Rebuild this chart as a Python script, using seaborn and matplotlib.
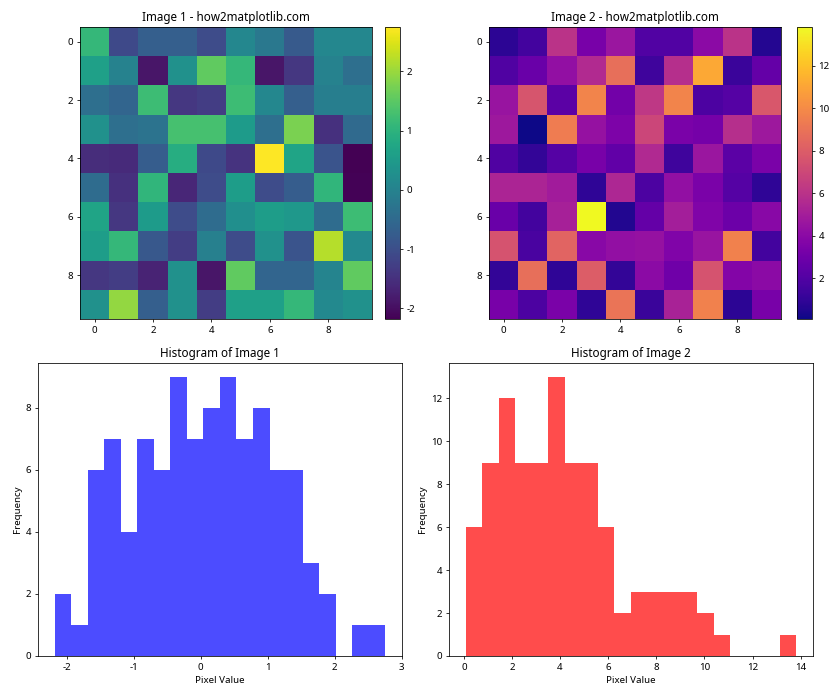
import numpy as np
import pandas as pd
import matplotlib
matplotlib.use("Agg")
import matplotlib.pyplot as plt
import seaborn as sns

plt.rcParams["font.family"] = ["Noto Sans", "DejaVu Sans"]
plt.rcParams["axes.unicode_minus"] = False

# -----------------------------
# Image data
# -----------------------------
image1 = [
    [1.1, -1.1, -0.7, -0.7, -1.05, 0.1, -0.2, -0.8, 0.1, 0.1],
    [0.6, 0.0, -1.9, 0.3, 1.55, 1.1, -1.9, -1.4, 0.0, -0.4],
    [-0.4, -0.6, 1.2, -1.4, -1.3, 1.2, 0.1, -0.7, -0.1, -0.1],
    [0.3, -0.4, -0.3, 1.3, 1.3, 0.5, -0.4, 1.75, -1.5, -0.5],
    [-1.55, -1.6, -0.75, 0.9, -1.1, -1.45, 2.75, 0.7, -0.9, -2.18],
    [-0.45, -1.5, 1.05, -1.65, -1.05, 0.55, -1.05, -0.75, 1.05, -2.15],
    [0.7, -1.4, 0.5, -1.05, -0.45, 0.25, 0.55, 0.45, -0.45, 1.2],
    [0.55, 1.1, -0.85, -1.3, -0.05, -1.05, 0.3, -0.9, 2.2, 0.15],
    [-1.4, -1.3, -1.7, 0.3, -1.9, 1.55, -0.6, -0.6, 0.05, 1.55],
    [0.3, 1.95, -0.7, 0.3, -1.3, 0.6, 0.6, 1.1, 0.15, 0.3],
]

image2 = [
    [0.8, 1.5, 6.0, 3.3, 4.6, 2.0, 2.0, 4.0, 6.0, 0.6],
    [1.9, 2.8, 4.3, 5.6, 8.8, 1.4, 5.8, 11.1, 1.2, 2.6],
    [4.5, 7.6, 2.3, 9.7, 3.1, 6.2, 9.7, 1.8, 2.1, 7.7],
    [4.7, 0.07, 9.4, 4.4, 3.5, 6.9, 3.4, 3.2, 5.8, 4.7],
    [1.9, 1.0, 2.1, 3.3, 2.5, 5.5, 1.4, 4.6, 2.3, 3.4],
    [5.3, 5.3, 4.9, 0.9, 5.4, 1.8, 4.3, 3.4, 2.1, 0.9],
    [2.8, 1.5, 5.1, 13.82, 0.5, 2.6, 5.0, 3.6, 2.9, 3.9],
    [7.5, 1.7, 8.3, 3.9, 4.3, 4.4, 3.6, 4.5, 9.6, 1.5],
    [1.0, 8.8, 0.9, 8.0, 1.0, 4.0, 3.0, 7.5, 3.7, 4.0],
    [3.3, 1.8, 3.4, 0.9, 9.0, 1.2, 5.2, 9.6, 0.8, 3.3],
]

# -----------------------------
# Histogram data (20 bins each)
# -----------------------------
hist1_range = (-2.184, 2.756)
hist1_counts = [2, 1, 6, 7, 4, 7, 6, 9, 7, 8, 9, 7, 8, 6, 6, 3, 2, 0, 1, 1]

hist2_range = (0.07, 13.82)
hist2_counts = [6, 9, 12, 9, 9, 13, 9, 9, 6, 2, 3, 3, 3, 3, 2, 1, 0, 0, 0, 1]

tick_labels = [0, 2, 4, 6, 8]


def draw_image(ax, data, cmap, title):
    sns.heatmap(np.array(data), cmap=cmap, ax=ax, square=True,
                xticklabels=False, yticklabels=False, cbar=True)
    ax.set_xticks([t + 0.5 for t in tick_labels])
    ax.set_xticklabels(tick_labels)
    ax.set_yticks([t + 0.5 for t in tick_labels])
    ax.set_yticklabels(tick_labels, rotation=0)
    ax.tick_params(length=3.5)
    for s in ax.spines.values():
        s.set_visible(True)
        s.set_linewidth(0.8)
    cb = ax.collections[0].colorbar
    cb.outline.set_linewidth(0.8)
    cb.ax.tick_params(length=3.5, labelsize=10)
    ax.set_title(title, fontsize=12)
    return cb


def draw_hist(ax, counts, rng, color, title):
    edges = np.linspace(rng[0], rng[1], len(counts) + 1)
    centers = (edges[:-1] + edges[1:]) / 2
    df = pd.DataFrame({"value": centers, "count": counts})
    sns.histplot(data=df, x="value", weights="count", bins=len(counts),
                 binrange=rng, ax=ax, color=color, alpha=0.7,
                 linewidth=0, edgecolor="none")
    ax.set_title(title, fontsize=12)
    ax.set_xlabel("Pixel Value")
    ax.set_ylabel("Frequency")


fig, axes = plt.subplots(2, 2, figsize=(12, 10), dpi=70)

cb1 = draw_image(axes[0, 0], image1, "viridis", "Image 1 - how2matplotlib.com")
cb2 = draw_image(axes[0, 1], image2, "plasma", "Image 2 - how2matplotlib.com")
draw_hist(axes[1, 0], hist1_counts, hist1_range, "blue", "Histogram of Image 1")
draw_hist(axes[1, 1], hist2_counts, hist2_range, "red", "Histogram of Image 2")

# -----------------------------
# Layout to match the reference
# -----------------------------
axes[0, 0].set_position([0.0929, 0.5443, 0.350, 0.4171])
cb1.ax.set_position([0.4583, 0.5443, 0.0190, 0.4171])
axes[0, 1].set_position([0.5810, 0.5443, 0.3488, 0.4171])
cb2.ax.set_position([0.9488, 0.5443, 0.0179, 0.4171])
axes[1, 0].set_position([0.0452, 0.0629, 0.4333, 0.4186])
axes[1, 1].set_position([0.5345, 0.0629, 0.4333, 0.4186])

plt.savefig("out.png", dpi=70)
plt.close()
